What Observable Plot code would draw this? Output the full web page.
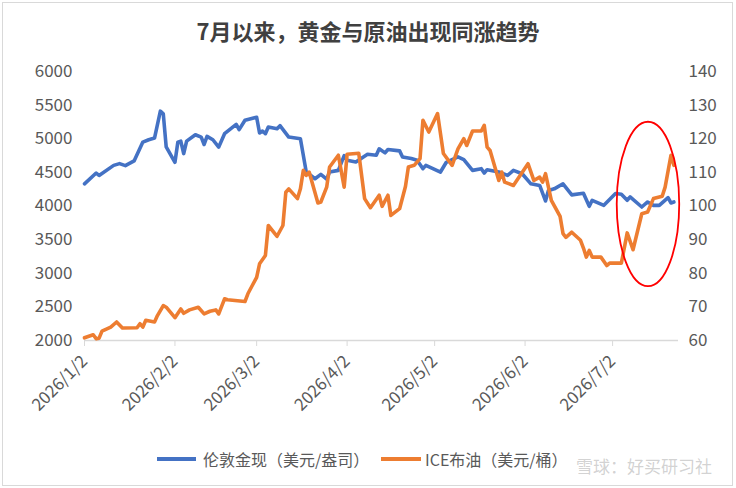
<!DOCTYPE html>
<html><head><meta charset="utf-8">
<script src="https://cdn.jsdelivr.net/npm/d3@7"></script>
<script src="https://cdn.jsdelivr.net/npm/@observablehq/plot@0.6"></script>
<style>
body{margin:0;background:#fff;font-family:"Noto Sans CJK SC",sans-serif;}
#wrap{position:relative;width:736px;height:488px;overflow:hidden;background:#fff;}
#border{position:absolute;left:2px;top:2px;width:731px;height:484px;border:1px solid #d9d9d9;box-sizing:border-box;}
#title{position:absolute;left:0;top:17px;width:736px;text-align:center;font-size:22px;line-height:26px;font-weight:bold;color:#404040;}
#chart{position:absolute;left:0;top:50px;}
.sw{position:absolute;height:4px;top:457px;}
.lt{position:absolute;top:447px;font-size:16px;line-height:24px;color:#595959;white-space:nowrap;}
#wm{position:absolute;left:576px;top:454px;font-size:17px;line-height:24px;color:rgba(140,140,140,0.4);white-space:nowrap;}
</style></head>
<body>
<div id="wrap">
<div id="border"></div>
<div id="title"></div>
<div id="chart"></div>
<div class="sw" style="left:157px;width:39px;background:#4472C4"></div>
<div class="lt" id="lg1" style="left:203px"></div>
<div class="sw" style="left:381px;width:40px;background:#ED7D31"></div>
<div class="lt" id="lg2" style="left:425px"></div>
<div id="wm">雪球：好买研习社</div>
</div>
<script>
const titleText = "7月以来，黄金与原油出现同涨趋势";
const seriesNames = ["伦敦金现（美元/盎司）", "ICE布油（美元/桶）"];

const goldDates = ["2026-01-02","2026-01-06","2026-01-07","2026-01-12","2026-01-14","2026-01-16","2026-01-19","2026-01-22","2026-01-24","2026-01-26","2026-01-28","2026-01-29","2026-01-30",
"2026-02-02","2026-02-03","2026-02-04","2026-02-05","2026-02-06","2026-02-09","2026-02-11","2026-02-12","2026-02-13","2026-02-15","2026-02-17","2026-02-19","2026-02-23","2026-02-24","2026-02-26",
"2026-03-02","2026-03-03","2026-03-04","2026-03-05","2026-03-06","2026-03-09","2026-03-10","2026-03-13","2026-03-17","2026-03-19","2026-03-22","2026-03-24","2026-03-26","2026-03-27","2026-03-30",
"2026-04-01","2026-04-02","2026-04-05","2026-04-09","2026-04-12","2026-04-13","2026-04-15","2026-04-16","2026-04-20","2026-04-21","2026-04-24","2026-04-26","2026-04-28","2026-04-29",
"2026-05-04","2026-05-06","2026-05-10","2026-05-12","2026-05-15","2026-05-18","2026-05-19","2026-05-20","2026-05-24","2026-05-27","2026-05-29",
"2026-06-01","2026-06-04","2026-06-07","2026-06-09","2026-06-10","2026-06-12","2026-06-15","2026-06-18","2026-06-22","2026-06-24","2026-06-25","2026-06-29",
"2026-07-03","2026-07-05","2026-07-07","2026-07-08","2026-07-12","2026-07-14","2026-07-16","2026-07-18","2026-07-21","2026-07-22","2026-07-23"];
const goldValues = [4330,4490,4455,4604,4630,4600,4670,4950,4985,5010,5410,5370,4880,
4650,4950,4965,4780,4965,5060,5025,4915,5035,4985,4875,5075,5215,5135,5275,
5320,5085,5115,5075,5175,5150,5195,5025,5000,4505,4405,4470,4400,4505,4530,
4750,4680,4655,4770,4755,4850,4790,4840,4820,4730,4705,4680,4555,4605,
4505,4650,4730,4690,4530,4555,4490,4540,4505,4455,4530,
4480,4330,4305,4075,4230,4255,4330,4165,4190,3995,4085,4010,
4185,4175,4085,4135,3985,4060,4010,4010,4125,4045,4060];

const oilDates = ["2026-01-02","2026-01-05","2026-01-06","2026-01-07","2026-01-08","2026-01-11","2026-01-13","2026-01-15","2026-01-20","2026-01-21","2026-01-22","2026-01-23","2026-01-26","2026-01-27","2026-01-29","2026-01-30",
"2026-02-02","2026-02-04","2026-02-05","2026-02-07","2026-02-10","2026-02-12","2026-02-14","2026-02-16","2026-02-17","2026-02-19","2026-02-20","2026-02-26","2026-02-27",
"2026-03-02","2026-03-03","2026-03-05","2026-03-06","2026-03-09","2026-03-11","2026-03-12","2026-03-13","2026-03-16","2026-03-17","2026-03-18","2026-03-19","2026-03-20","2026-03-23","2026-03-24","2026-03-26","2026-03-27","2026-03-30",
"2026-04-01","2026-04-02","2026-04-06","2026-04-08","2026-04-10","2026-04-13","2026-04-14","2026-04-16","2026-04-17","2026-04-20","2026-04-22","2026-04-23","2026-04-25","2026-04-27","2026-04-28","2026-04-30",
"2026-05-03","2026-05-05","2026-05-08","2026-05-10","2026-05-12","2026-05-13","2026-05-15","2026-05-18","2026-05-19","2026-05-20","2026-05-21","2026-05-24","2026-05-25","2026-05-26","2026-05-29",
"2026-06-03","2026-06-05","2026-06-07","2026-06-08","2026-06-09","2026-06-11","2026-06-14","2026-06-15","2026-06-16","2026-06-18","2026-06-21","2026-06-22","2026-06-23","2026-06-24","2026-06-25","2026-06-28","2026-06-30",
"2026-07-01","2026-07-05","2026-07-07","2026-07-09","2026-07-12","2026-07-14","2026-07-16","2026-07-19","2026-07-20","2026-07-22","2026-07-23"];
const oilValues = [60.8,61.7,60.5,60.7,62.8,64.0,65.5,63.7,63.8,65.0,64.0,66.0,65.5,67.4,70.4,69.9,
66.8,69.4,68.1,69.1,69.9,67.9,68.7,69.1,67.9,72.4,72.1,71.6,73.9,
78.8,82.8,85.3,94.2,91.0,94.2,104.1,105.1,102.2,105.1,110.6,109.1,110.1,100.9,101.2,105.6,111.6,115.1,
105.6,115.4,115.7,102.2,99.5,103.2,99.9,103.2,97.2,99.2,105.8,111.6,112.1,114.1,125.5,122.0,
127.5,115.6,112.1,117.0,120.0,118.0,122.3,122.3,124.0,117.5,116.5,107.6,110.1,107.1,106.1,
112.6,107.6,108.6,107.1,109.6,101.7,96.9,91.8,90.7,92.2,89.8,87.5,84.8,86.8,84.8,84.8,82.3,
83.0,83.0,92.0,87.0,97.7,98.2,102.2,102.9,105.6,115.1,112.1];

const leftTicks = [2000,2500,3000,3500,4000,4500,5000,5500,6000];
const rightTicks = [60,70,80,90,100,110,120,130,140];
const monthTicks = ["2026-01-02","2026-02-02","2026-03-02","2026-04-02","2026-05-02","2026-06-02","2026-07-02"];
const xDomain = ["2026-01-02","2026-07-24T14:00:00Z"];
// red highlight ellipse bounds (date range, left-axis values)
const ellipseX = ["2026-07-03T14:00:00Z","2026-07-25T00:00:00Z"];
const ellipseY = [2800, 5245];

document.getElementById("title").textContent = titleText;
document.getElementById("lg1").textContent = seriesNames[0];
document.getElementById("lg2").textContent = seriesNames[1];

const parse = s => new Date(s.length === 10 ? s + "T00:00:00Z" : s);
const toLeft = v => 2000 + (v - 60) * 50;
const gold = goldDates.map((d, i) => ({date: parse(d), value: goldValues[i]}));
const oil = oilDates.map((d, i) => ({date: parse(d), value: toLeft(oilValues[i])}));

const W = 736, H = 390, mL = 84, mR = 58, mT = 21, mB = 100;
const plot = Plot.plot({
  width: W, height: H,
  marginTop: mT, marginBottom: mB, marginLeft: mL, marginRight: mR,
  style: {fontFamily: '"Noto Sans CJK SC", sans-serif', fontSize: "17px", color: "#595959", background: "transparent", overflow: "visible"},
  x: {type: "utc", domain: xDomain.map(parse)},
  y: {domain: [2000, 6000]},
  marks: [
    Plot.axisY(leftTicks, {anchor: "left", tickSize: 0, tickPadding: 12, label: null, tickFormat: v => String(v)}),
    Plot.axisY(rightTicks.map(toLeft), {anchor: "right", tickSize: 0, tickPadding: 10, label: null, tickFormat: v => String(Math.round((v - 2000) / 50 + 60))}),
    Plot.axisX(monthTicks.map(parse), {anchor: "bottom", tickSize: 6, tickPadding: 12, tickRotate: -45, stroke: "#d9d9d9", label: null,
      tickFormat: d => `${d.getUTCFullYear()}/${d.getUTCMonth() + 1}/${d.getUTCDate()}`}),
    Plot.ruleY([2000], {stroke: "#d9d9d9", strokeWidth: 1.3}),
    Plot.line(gold, {x: "date", y: "value", stroke: "#4472C4", strokeWidth: 3.6, strokeLinejoin: "round", strokeLinecap: "round"}),
    Plot.line(oil, {x: "date", y: "value", stroke: "#ED7D31", strokeWidth: 3.6, strokeLinejoin: "round", strokeLinecap: "round"})
  ]
});

const xs = plot.scale("x"), ys = plot.scale("y");
const fx = d3.scaleUtc().domain(xs.domain).range(xs.range);
const fy = d3.scaleLinear().domain(ys.domain).range(ys.range);
const ex0 = fx(parse(ellipseX[0])), ex1 = fx(parse(ellipseX[1]));
const ey0 = fy(ellipseY[0]), ey1 = fy(ellipseY[1]);
d3.select(plot).append("ellipse")
  .attr("cx", (ex0 + ex1) / 2).attr("cy", (ey0 + ey1) / 2)
  .attr("rx", Math.abs(ex1 - ex0) / 2).attr("ry", Math.abs(ey1 - ey0) / 2)
  .attr("fill", "none").attr("stroke", "#FF0000").attr("stroke-width", 1.8);

document.getElementById("chart").appendChild(plot);
</script>
</body></html>
